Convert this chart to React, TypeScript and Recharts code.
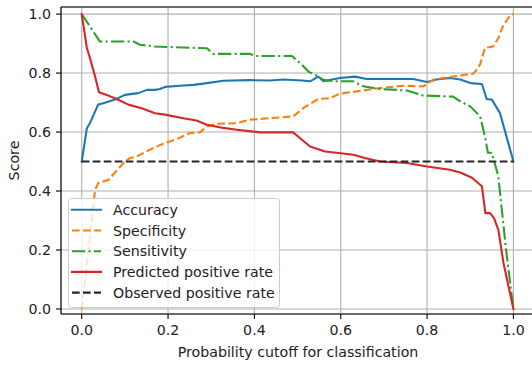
import React from 'react';
import { LineChart, Line, XAxis, YAxis, CartesianGrid, ReferenceLine, Label } from 'recharts';

type Pt = [number, number];

const cutoffTicks = [0, 0.2, 0.4, 0.6, 0.8, 1.0];
const scoreTicks = [0, 0.2, 0.4, 0.6, 0.8, 1.0];

const accuracy: Pt[] = [
  [0, 0.5], [0.012, 0.613], [0.019, 0.63], [0.038, 0.693], [0.05, 0.698], [0.077, 0.71],
  [0.1, 0.726], [0.131, 0.732], [0.151, 0.743], [0.17, 0.743], [0.181, 0.746], [0.193, 0.753],
  [0.228, 0.757], [0.259, 0.76], [0.29, 0.766], [0.328, 0.774], [0.39, 0.776], [0.436, 0.775],
  [0.467, 0.778], [0.51, 0.775], [0.529, 0.772], [0.548, 0.788], [0.56, 0.772], [0.598, 0.783],
  [0.633, 0.788], [0.66, 0.78], [0.768, 0.78], [0.8, 0.77], [0.822, 0.778], [0.853, 0.783],
  [0.877, 0.778], [0.9, 0.766], [0.927, 0.763], [0.938, 0.712], [0.95, 0.71], [0.969, 0.664],
  [1.0, 0.5],
];

const specificity: Pt[] = [
  [0, 0], [0.031, 0.404], [0.038, 0.427], [0.062, 0.438], [0.1, 0.5], [0.112, 0.512],
  [0.127, 0.517], [0.166, 0.546], [0.193, 0.563], [0.22, 0.576], [0.251, 0.597], [0.274, 0.599],
  [0.29, 0.619], [0.313, 0.628], [0.359, 0.63], [0.39, 0.642], [0.436, 0.647], [0.49, 0.653],
  [0.513, 0.681], [0.548, 0.712], [0.575, 0.715], [0.598, 0.73], [0.637, 0.738], [0.691, 0.749],
  [0.745, 0.757], [0.791, 0.755], [0.815, 0.778], [0.849, 0.786], [0.907, 0.798], [0.915, 0.811],
  [0.923, 0.83], [0.934, 0.885], [0.953, 0.89], [0.965, 0.918], [0.977, 0.964], [0.995, 1.0],
  [1.0, 1.0],
];

const sensitivity: Pt[] = [
  [0, 1.0], [0.042, 0.907], [0.12, 0.907], [0.135, 0.896], [0.17, 0.89], [0.29, 0.884],
  [0.305, 0.865], [0.39, 0.865], [0.4, 0.858], [0.487, 0.858], [0.51, 0.828], [0.525, 0.805],
  [0.541, 0.794], [0.56, 0.777], [0.587, 0.772], [0.629, 0.772], [0.652, 0.755], [0.691, 0.746],
  [0.753, 0.741], [0.79, 0.724], [0.86, 0.72], [0.877, 0.704], [0.9, 0.687], [0.923, 0.653],
  [0.934, 0.585], [0.941, 0.53], [0.95, 0.53], [0.965, 0.45], [0.983, 0.2], [1.0, 0.0],
];

const predictedRate: Pt[] = [
  [0, 1.0], [0.012, 0.885], [0.019, 0.851], [0.031, 0.788], [0.04, 0.735], [0.066, 0.721],
  [0.081, 0.712], [0.108, 0.693], [0.139, 0.681], [0.17, 0.664], [0.193, 0.659], [0.235, 0.647],
  [0.266, 0.639], [0.29, 0.625], [0.328, 0.614], [0.359, 0.608], [0.413, 0.599], [0.49, 0.599],
  [0.51, 0.574], [0.529, 0.551], [0.564, 0.534], [0.595, 0.529], [0.629, 0.523], [0.656, 0.512],
  [0.691, 0.5], [0.753, 0.495], [0.8, 0.483], [0.853, 0.472], [0.877, 0.463], [0.904, 0.445],
  [0.927, 0.416], [0.935, 0.325], [0.946, 0.325], [0.955, 0.308], [0.965, 0.269], [0.977, 0.156],
  [1.0, 0.0],
];

const observedRate: Pt[] = [[0, 0.5], [1.0, 0.5]];

const X_DOMAIN: [number, number] = [-0.048, 1.05];
const Y_DOMAIN: [number, number] = [-0.017, 1.024];

const FONT = '"DejaVu Sans", "Bitstream Vera Sans", sans-serif';
const TEXT = '#222';
const FS = 14.2;

const series = [
  { name: 'Accuracy', pts: accuracy, color: '#1f77b4', dash: undefined as string | undefined },
  { name: 'Specificity', pts: specificity, color: '#ff7f0e', dash: '7.7 3.3' },
  { name: 'Sensitivity', pts: sensitivity, color: '#2ca02c', dash: '13.3 3.3 2.1 3.3' },
  { name: 'Predicted positive rate', pts: predictedRate, color: '#d62728', dash: undefined },
  { name: 'Observed positive rate', pts: observedRate, color: '#262626', dash: '7.7 3.3' },
];

const toRows = (pts: Pt[]) => pts.map(([x, y]) => ({ x, y }));
const fmt = (v: number) => v.toFixed(1);

function LegendBox() {
  const left = 68.5;
  const top = 198.5;
  const rowH = 20.7;
  const first = 209.8;
  return (
    <svg width={532} height={365} style={{ position: 'absolute', left: 0, top: 0, pointerEvents: 'none' }}>
      <rect x={left} y={top} width={211} height={109} rx={3} ry={3} fill="#ffffff" fillOpacity={0.8} stroke="#cccccc" strokeWidth={1} />
      {series.map((s, i) => {
        const cy = first + i * rowH;
        return (
          <g key={s.name}>
            <line x1={72} x2={101} y1={cy} y2={cy} stroke={s.color} strokeWidth={2.1} strokeDasharray={s.dash} strokeLinecap={s.dash ? 'butt' : 'square'} />
            <text x={113} y={cy} dominantBaseline="central" fontFamily={FONT} fontSize={FS} fill={TEXT}>{s.name}</text>
          </g>
        );
      })}
    </svg>
  );
}

export default function App() {
  return (
    <div style={{ position: 'absolute', left: 0, top: 0, width: 532, height: 365, overflow: 'hidden', background: '#fff', fontFamily: FONT }}>
      <LineChart width={540} height={365} margin={{ top: 7, right: 5, bottom: 0, left: 0 }}>
        <CartesianGrid stroke="#b0b0b0" strokeWidth={1.1} />
        <XAxis
          type="number"
          dataKey="x"
          domain={X_DOMAIN}
          ticks={cutoffTicks}
          tickFormatter={fmt}
          allowDataOverflow
          height={51}
          tickSize={5}
          tickMargin={6}
          axisLine={{ stroke: '#000', strokeWidth: 1.1 }}
          tickLine={{ stroke: '#000', strokeWidth: 1.1 }}
          tick={{ fill: TEXT, fontSize: FS, fontFamily: FONT }}
        >
          <Label
            content={(props: any) => {
              const vb = props.viewBox || { x: 61, width: 474 };
              return (
                <text x={vb.x + vb.width / 2} y={356.5} textAnchor="middle" fontFamily={FONT} fontSize={FS} fill={TEXT}>
                  Probability cutoff for classification
                </text>
              );
            }}
          />
        </XAxis>
        <YAxis
          type="number"
          dataKey="y"
          domain={Y_DOMAIN}
          ticks={scoreTicks}
          tickFormatter={fmt}
          allowDataOverflow
          width={61}
          tickSize={5}
          tickMargin={5}
          axisLine={{ stroke: '#000', strokeWidth: 1.1 }}
          tickLine={{ stroke: '#000', strokeWidth: 1.1 }}
          tick={{ fill: TEXT, fontSize: FS, fontFamily: FONT }}
        >
          <Label
            content={() => (
              <text x={14} y={160.5} transform="rotate(-90 14 160.5)" textAnchor="middle" dominantBaseline="central" fontFamily={FONT} fontSize={FS} fill={TEXT}>
                Score
              </text>
            )}
          />
        </YAxis>
        <ReferenceLine y={Y_DOMAIN[1]} stroke="#000" strokeWidth={1.1} />
        {series.map((s) => (
          <Line
            key={s.name}
            data={toRows(s.pts)}
            dataKey="y"
            name={s.name}
            type="linear"
            stroke={s.color}
            strokeWidth={2.1}
            strokeDasharray={s.dash}
            strokeLinecap={s.dash ? 'butt' : 'square'}
            strokeLinejoin="round"
            dot={false}
            activeDot={false}
            isAnimationActive={false}
          />
        ))}
      </LineChart>
      <LegendBox />
    </div>
  );
}
